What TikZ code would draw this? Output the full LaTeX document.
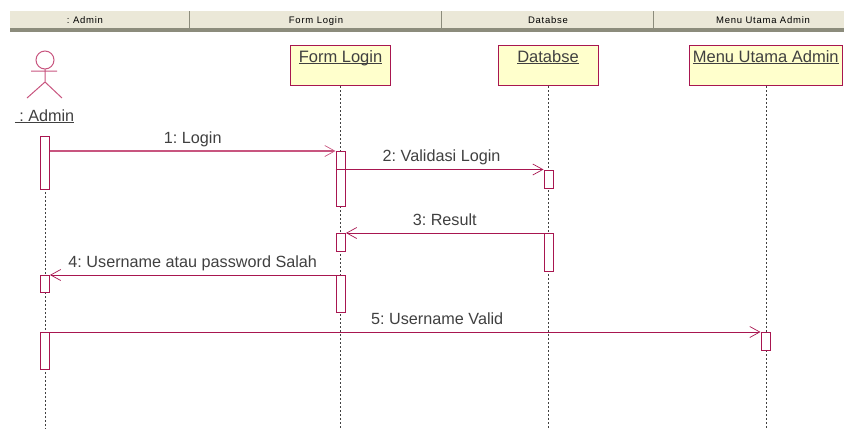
\documentclass[tikz,border=0pt]{standalone}
\usepackage{fontspec}
\setmainfont{Liberation Sans}
\newfontfamily\headfont[LetterSpace=8]{Liberation Sans}
\usetikzlibrary{arrows.meta}
\frenchspacing
\definecolor{umlred}{HTML}{A81650}
\definecolor{umlpink}{HTML}{C8557F}
\definecolor{umlyellow}{HTML}{FFFFCC}
\definecolor{headbeige}{HTML}{EBE8D8}
\definecolor{headdark}{HTML}{8C8C7C}
\definecolor{inkgrey}{HTML}{404040}
\newcommand{\ulname}[1]{\setbox0\hbox{#1}\rlap{\rule[-1.7pt]{\wd0}{.9pt}}\box0}
\tikzset{
  headlabel/.style={inner sep=0pt,anchor=base,text=black,font=\headfont\fontsize{9.5}{11}\selectfont},
  headsep/.style={draw=headdark,line width=1.5pt},
  classbox/.style={draw=umlred,fill=umlyellow,line width=1pt,anchor=north,inner sep=0pt,
    minimum height=40.5pt,text height=17.5pt,text depth=23pt,text=inkgrey,font=\fontsize{16.5}{18}\selectfont},
  lifeline/.style={draw=inkgrey,line width=1pt,dash pattern=on 2pt off 2pt},
  barbox/.style={draw=umlred,fill=white,line width=1pt,minimum width=9.5pt,inner sep=0pt,anchor=north},
  msg/.style={draw=umlred,line width=1pt,-{Straight Barb[length=10pt,width=11pt,line width=.7pt]}},
  msglabel/.style={inner sep=0pt,anchor=base,yshift=8pt,text=inkgrey,font=\fontsize{16.2}{18}\selectfont},
}
\begin{document}
\begin{tikzpicture}[x=1pt,y=-1pt]
  \useasboundingbox (0,0) rectangle (844,429);

  % header strip
  \fill[headbeige] (10,11) rectangle (844,28);
  \fill[headdark] (10,28) rectangle (844,32);
  \foreach \x in {189.5,441.5,653.5}
      \draw[headsep] (\x,11) -- (\x,29);
  \foreach \name/\x/\txt in {headadmin/85/{: Admin},headlogin/316/{Form Login},headdb/548/{Databse},headmenu/763/{Menu Utama Admin}}
      \node[headlabel] (\name) at (\x,23) {\txt};

  % objects
  \node[classbox,minimum width=100pt] (login) at (340.5,44.5) {\ulname{Form Login}};
  \node[classbox,minimum width=100pt] (db) at (548,44.5) {\ulname{Databse}};
  \node[classbox,minimum width=152.5pt] (menu) at (765.75,44.5) {\ulname{Menu Utama Admin}};

  % actor
  \draw[umlpink,line width=1pt] (45,60) circle (9);
  \draw[umlpink,line width=1pt] (45,69) -- (45,82) (31,71) -- (57,71) (27,98) -- (45,82) -- (62,98);
  \node[inner sep=0pt,anchor=base,text=inkgrey,font=\fontsize{16.2}{18}\selectfont] (admin) at (44.5,121) {\ulname{\ : Admin}};

  % lifelines
  \coordinate (adminend) at (45.5,429);
  \coordinate (loginend) at (340.5,429);
  \coordinate (dbend) at (548.5,429);
  \coordinate (menuend) at (766.5,429);
  \coordinate (adminstart) at (45.5,136);
  \draw[lifeline] (adminstart) -- (adminend);
  \draw[lifeline] (login.south -| loginend) -- (loginend);
  \draw[lifeline] (db.south -| dbend) -- (dbend);
  \draw[lifeline] (menu.south -| menuend) -- (menuend);

  % activation bars
  \foreach \name/\x/\y/\h in {adminbara/44.75/136/53,adminbarb/44.75/275/17,adminbarc/44.75/332/37,
      loginbara/340.75/151/55,loginbarb/340.75/233/18,loginbarc/340.75/275/37,
      dbbara/548.75/169.5/18,dbbarb/548.75/233/37.5,menubara/765.75/332/18}
      \node[barbox,minimum height=\h pt] (\name) at (\x,\y) {};

  % messages
  \draw[msg,draw=umlpink,line width=1.4pt] (adminbara.east |- loginbara.north) -- node[msglabel,pos=.5] (msga) {1: Login} (loginbara.north west);
  \draw[msg] (loginbara.west |- dbbara.north) -- node[msglabel,pos=.51] (msgb) {2: Validasi Login} (dbbara.north west);
  \draw[msg] (dbbarb.north west) -- node[msglabel,pos=.5] (msgc) {3: Result} (loginbarb.north east);
  \draw[msg] (loginbarc.north west) -- node[msglabel,pos=.5] (msgd) {4: Username atau password Salah} (adminbarb.north east);
  \draw[msg] (adminbarc.north east) -- node[msglabel,pos=.545] (msge) {5: Username Valid} (menubara.north west);
\end{tikzpicture}
\end{document}
